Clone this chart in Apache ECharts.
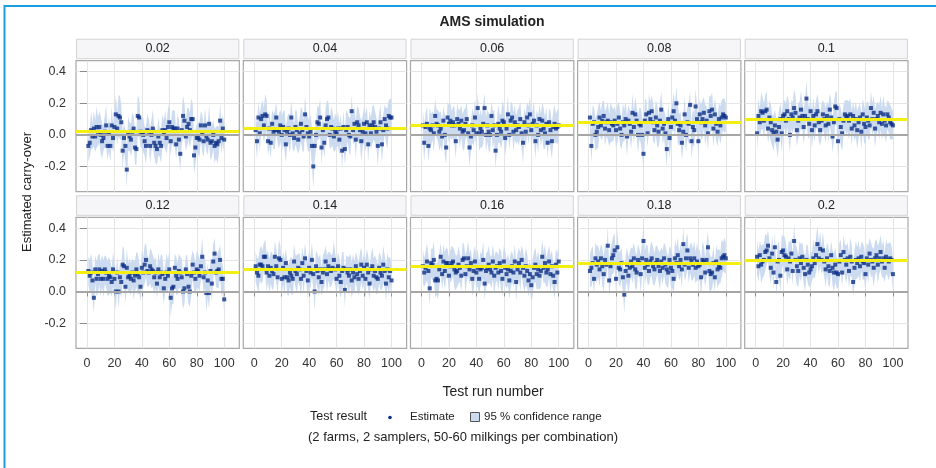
<!DOCTYPE html>
<html>
<head>
<meta charset="utf-8">
<script src="https://cdn.jsdelivr.net/npm/echarts@6/dist/echarts.min.js"></script>
<style>
  html, body { margin: 0; padding: 0; background: #fff; }
  #chart { width: 936px; height: 468px; }
</style>
</head>
<body>
<div id="chart"></div>
<script>
// panel headers = true carry-over used in the simulation
const panelLabels = ['0.02', '0.04', '0.06', '0.08', '0.1', '0.12', '0.14', '0.16', '0.18', '0.2'];
const trueCarryOver = [0.02, 0.04, 0.06, 0.08, 0.10, 0.12, 0.14, 0.16, 0.18, 0.20];
const xTickValues = [0, 20, 40, 60, 80, 100];
const yTickValues = [-0.2, 0, 0.2, 0.4];

// estimated carry-over per test run (runs 1..100)
const est002 = [
  -0.07, -0.05, 0.03, -0.01, 0.04, -0.01, 0.05, 0.02, 0.05, 0.00,
  -0.04, -0.02, 0.02, 0.06, -0.07, 0.01, -0.07, 0.06, -0.02, 0.05,
  0.13, 0.04, 0.12, 0.11, 0.08, -0.10, -0.02, -0.07, -0.22, 0.01,
  -0.01, -0.03, 0.02, 0.04, -0.08, -0.09, 0.12, 0.11, 0.02, 0.01,
  0.00, -0.04, -0.07, 0.03, 0.02, -0.07, 0.00, 0.04, -0.05, -0.07,
  -0.09, -0.01, -0.05, -0.07, 0.03, 0.01, 0.03, -0.02, 0.05, 0.08,
  -0.04, 0.05, 0.04, 0.04, -0.06, 0.04, -0.03, -0.12, 0.03, 0.12,
  0.09, -0.01, 0.05, 0.07, 0.03, 0.10, 0.10, -0.13, -0.08, -0.02,
  -0.02, -0.03, 0.06, 0.01, -0.04, 0.06, -0.01, -0.03, 0.07, -0.05,
  -0.04, 0.00, -0.07, -0.05, -0.06, -0.04, 0.09, -0.02, 0.04, -0.03
];
const est004 = [
  0.03, -0.04, 0.11, 0.01, 0.10, 0.12, 0.06, 0.13, 0.12, -0.04,
  0.04, -0.05, 0.07, 0.02, 0.03, 0.11, 0.03, 0.02, 0.06, 0.00,
  0.05, 0.03, -0.06, 0.02, 0.04, 0.00, 0.11, 0.01, -0.02, 0.05,
  0.03, -0.03, 0.01, 0.07, 0.03, -0.01, 0.13, 0.05, 0.01, -0.01,
  0.02, -0.07, -0.20, -0.07, 0.00, 0.08, 0.07, 0.11, -0.08, 0.03,
  -0.05, 0.06, 0.10, 0.11, 0.00, 0.05, 0.04, -0.01, 0.02, 0.01,
  0.04, -0.03, 0.04, -0.10, 0.05, -0.09, 0.03, 0.05, 0.00, -0.01,
  0.15, 0.03, 0.07, -0.03, 0.08, 0.06, 0.03, -0.04, 0.02, 0.07,
  0.01, 0.08, -0.06, 0.06, 0.01, 0.06, 0.08, 0.05, 0.02, -0.07,
  0.04, 0.08, -0.06, 0.03, 0.10, 0.06, 0.04, 0.12, 0.11, 0.11
];
const est006 = [
  0.06, -0.05, 0.05, 0.07, -0.07, 0.04, 0.03, 0.06, 0.01, 0.12,
  0.07, 0.06, 0.02, 0.04, -0.01, 0.09, 0.00, -0.08, 0.11, 0.07,
  0.09, 0.06, 0.08, 0.06, -0.04, 0.10, 0.07, 0.04, 0.09, 0.02,
  0.03, 0.07, 0.10, 0.01, -0.08, -0.01, 0.06, 0.03, 0.11, 0.01,
  0.17, 0.01, 0.04, 0.02, 0.07, 0.17, 0.00, 0.06, 0.02, 0.00,
  0.12, 0.03, 0.06, -0.10, 0.00, 0.07, 0.04, 0.02, 0.09, 0.08,
  -0.02, 0.04, 0.13, 0.00, 0.09, 0.11, 0.02, 0.08, 0.03, 0.06,
  0.05, 0.10, 0.01, -0.05, 0.08, 0.02, 0.11, 0.06, 0.13, 0.03,
  0.07, 0.09, -0.04, 0.06, 0.00, 0.10, 0.03, 0.09, 0.04, 0.01,
  0.07, -0.05, 0.08, 0.03, -0.04, 0.05, 0.07, 0.04, 0.05, 0.06
];
const est008 = [
  0.11, -0.07, 0.07, 0.08, 0.00, 0.02, 0.05, 0.11, 0.06, 0.09,
  0.12, 0.04, 0.08, 0.09, 0.03, 0.08, 0.07, 0.06, 0.09, 0.03,
  0.07, 0.11, 0.04, 0.00, 0.08, 0.06, 0.10, -0.01, 0.09, 0.07,
  0.02, 0.14, 0.05, 0.13, 0.09, 0.00, 0.07, 0.06, 0.00, -0.12,
  0.09, 0.13, 0.01, 0.14, 0.10, 0.15, 0.08, 0.03, 0.11, 0.06,
  0.02, 0.09, 0.16, 0.04, 0.07, 0.01, -0.09, 0.10, -0.02, 0.05,
  0.11, 0.15, 0.09, 0.20, 0.07, 0.03, 0.06, -0.05, 0.02, 0.13,
  0.00, 0.08, 0.07, 0.19, -0.04, 0.05, 0.03, 0.18, 0.10, -0.04,
  0.13, 0.08, 0.10, 0.14, 0.06, 0.09, 0.01, 0.15, 0.12, 0.16,
  0.04, 0.13, 0.07, 0.02, 0.10, 0.06, 0.11, 0.13, 0.12, 0.11
];
const est010 = [
  0.01, 0.12, 0.08, 0.15, 0.14, 0.09, 0.15, 0.16, 0.04, 0.11,
  0.08, 0.03, 0.01, 0.06, 0.02, -0.03, 0.05, 0.10, 0.01, 0.12,
  0.13, 0.09, 0.15, 0.10, 0.00, 0.13, 0.11, 0.17, 0.14, 0.03,
  0.09, 0.11, 0.16, 0.12, 0.05, 0.12, 0.23, 0.10, 0.07, 0.15,
  0.03, 0.12, 0.06, 0.13, 0.15, 0.08, 0.03, 0.09, 0.13, 0.10,
  0.06, 0.12, 0.07, 0.16, 0.11, -0.01, 0.08, 0.18, 0.17, -0.04,
  0.10, 0.05, 0.01, 0.09, 0.13, 0.11, 0.12, 0.09, 0.13, 0.04,
  0.12, 0.06, 0.10, 0.03, 0.08, 0.11, 0.02, 0.13, 0.07, 0.05,
  0.11, 0.09, 0.06, 0.17, 0.10, 0.14, 0.04, 0.10, 0.12, 0.08,
  0.14, 0.07, 0.13, 0.09, 0.06, 0.13, 0.11, 0.08, 0.07, 0.06
];
const est012 = [
  0.13, 0.10, 0.12, 0.07, -0.04, 0.14, 0.08, 0.11, 0.14, 0.08,
  0.13, 0.08, 0.14, 0.12, 0.08, 0.10, 0.09, 0.06, 0.14, 0.08,
  0.00, 0.12, 0.00, 0.09, 0.06, 0.17, 0.16, 0.03, 0.15, 0.09,
  0.10, 0.08, 0.12, 0.07, 0.10, 0.14, 0.11, 0.09, 0.03, 0.15,
  0.12, 0.17, 0.20, 0.13, 0.12, 0.16, 0.14, 0.13, 0.09, 0.12,
  0.05, 0.14, 0.09, 0.12, 0.11, 0.02, 0.08, 0.12, 0.10, 0.14,
  -0.04, 0.02, 0.03, 0.15, 0.10, 0.08, 0.13, 0.12, 0.09, 0.00,
  0.02, 0.14, 0.11, 0.03, 0.00, 0.10, 0.17, 0.12, 0.08, 0.14,
  0.13, 0.10, 0.16, 0.22, 0.09, 0.12, -0.01, 0.07, -0.01, 0.13,
  0.05, 0.19, 0.24, 0.12, 0.13, 0.14, 0.20, 0.08, 0.08, -0.05
];
const est014 = [
  0.16, 0.12, 0.10, 0.17, 0.17, 0.16, 0.22, 0.22, 0.12, 0.16,
  0.10, 0.15, 0.13, 0.11, 0.22, 0.16, 0.09, 0.21, 0.20, 0.08,
  0.15, 0.09, 0.18, 0.09, 0.07, 0.12, 0.10, 0.08, 0.19, 0.13,
  0.11, 0.15, 0.14, 0.08, 0.18, 0.10, 0.21, 0.13, 0.07, 0.15,
  0.12, 0.20, 0.11, 0.00, 0.16, 0.13, 0.09, 0.14, 0.06, 0.12,
  0.14, 0.19, 0.11, 0.16, 0.14, 0.13, 0.15, 0.20, 0.14, 0.08,
  0.16, 0.10, 0.06, 0.13, 0.15, 0.01, 0.14, 0.12, 0.10, 0.14,
  0.07, 0.12, 0.09, 0.16, 0.11, 0.08, 0.13, 0.17, 0.10, 0.15,
  0.08, 0.17, 0.12, 0.05, 0.14, 0.16, 0.10, 0.13, 0.09, 0.08,
  0.15, 0.12, 0.10, 0.17, 0.13, 0.05, 0.14, 0.09, 0.13, 0.07
];
const est016 = [
  0.16, 0.12, 0.15, 0.19, 0.13, 0.02, 0.18, 0.17, 0.20, 0.07,
  0.08, 0.07, 0.14, 0.22, 0.11, 0.19, 0.13, 0.18, 0.18, 0.10,
  0.16, 0.18, 0.19, 0.14, 0.12, 0.13, 0.17, 0.15, 0.10, 0.20,
  0.21, 0.11, 0.16, 0.21, 0.14, 0.18, 0.08, 0.13, 0.19, 0.12,
  0.15, 0.08, 0.14, 0.15, 0.20, 0.05, 0.13, 0.15, 0.17, 0.14,
  0.12, 0.19, 0.10, 0.15, 0.16, 0.12, 0.18, 0.13, 0.08, 0.19,
  0.15, 0.11, 0.14, 0.07, 0.13, 0.16, 0.12, 0.19, 0.06, 0.14,
  0.18, 0.12, 0.20, 0.15, 0.10, 0.16, 0.13, 0.07, 0.11, 0.04,
  0.09, 0.15, 0.17, 0.11, 0.14, 0.10, 0.13, 0.22, 0.15, 0.18,
  0.12, 0.14, 0.19, 0.11, 0.16, 0.10, 0.06, 0.17, 0.12, 0.19
];
const est018 = [
  0.13, 0.15, 0.18, 0.08, 0.21, 0.17, 0.19, 0.14, 0.21, 0.16,
  0.11, 0.20, 0.17, 0.29, 0.07, 0.16, 0.21, 0.23, 0.26, 0.08,
  0.28, 0.15, 0.14, 0.18, 0.09, -0.02, 0.13, 0.17, 0.10, 0.15,
  0.19, 0.16, 0.21, 0.14, 0.12, 0.20, 0.18, 0.11, 0.21, 0.32,
  0.15, 0.20, 0.17, 0.13, 0.19, 0.21, 0.16, 0.14, 0.18, 0.20,
  0.16, 0.13, 0.19, 0.15, 0.21, 0.17, 0.14, 0.12, 0.20, 0.15,
  0.13, 0.08, 0.21, 0.18, 0.23, 0.16, 0.20, 0.14, 0.30, 0.17,
  0.21, 0.26, 0.15, 0.21, 0.19, 0.17, 0.21, 0.15, 0.19, 0.16,
  0.17, 0.09, 0.20, 0.19, 0.12, 0.20, 0.28, 0.13, 0.11, 0.12,
  0.18, 0.09, 0.19, 0.14, 0.16, 0.15, 0.21, 0.22, 0.23, 0.21
];
const est020 = [
  0.22, 0.16, 0.23, 0.17, 0.19, 0.20, 0.25, 0.26, 0.29, 0.21,
  0.15, 0.24, 0.12, 0.28, 0.06, 0.19, 0.20, 0.10, 0.25, 0.26,
  0.23, 0.22, 0.14, 0.21, 0.19, 0.24, 0.13, 0.32, 0.20, 0.16,
  0.13, 0.21, 0.18, 0.22, 0.15, 0.11, 0.20, 0.17, 0.12, 0.14,
  0.16, 0.21, 0.18, 0.23, 0.30, 0.21, 0.27, 0.20, 0.26, 0.19,
  0.14, 0.21, 0.16, 0.13, 0.23, 0.15, 0.12, 0.17, 0.12, 0.11,
  0.19, 0.23, 0.12, 0.25, 0.20, 0.17, 0.21, 0.13, 0.22, 0.19,
  0.06, 0.15, 0.20, 0.18, 0.21, 0.16, 0.22, 0.19, 0.18, 0.11,
  0.21, 0.17, 0.24, 0.20, 0.19, 0.15, 0.21, 0.23, 0.17, 0.21,
  0.25, 0.19, 0.21, 0.15, 0.22, 0.20, 0.19, 0.21, 0.20, 0.11
];

// half width of the 95 % confidence range per test run
const ci002 = [
  0.10, 0.09, 0.12, 0.08, 0.11, 0.10, 0.13, 0.09, 0.10, 0.12,
  0.11, 0.08, 0.10, 0.13, 0.09, 0.11, 0.10, 0.12, 0.09, 0.11,
  0.12, 0.10, 0.13, 0.14, 0.11, 0.12, 0.09, 0.10, 0.12, 0.11,
  0.09, 0.10, 0.12, 0.08, 0.11, 0.10, 0.13, 0.12, 0.09, 0.10,
  0.11, 0.09, 0.12, 0.10, 0.08, 0.11, 0.10, 0.12, 0.09, 0.11,
  0.10, 0.12, 0.09, 0.11, 0.10, 0.08, 0.12, 0.10, 0.11, 0.13,
  0.09, 0.10, 0.12, 0.11, 0.09, 0.10, 0.12, 0.11, 0.10, 0.13,
  0.11, 0.09, 0.12, 0.10, 0.11, 0.13, 0.10, 0.12, 0.11, 0.09,
  0.10, 0.11, 0.09, 0.12, 0.10, 0.11, 0.09, 0.10, 0.12, 0.11,
  0.10, 0.09, 0.11, 0.10, 0.12, 0.09, 0.11, 0.10, 0.09, 0.10
];
const ci004 = [
  0.09, 0.11, 0.10, 0.12, 0.09, 0.10, 0.11, 0.13, 0.10, 0.09,
  0.12, 0.10, 0.09, 0.11, 0.12, 0.10, 0.08, 0.11, 0.10, 0.12,
  0.10, 0.13, 0.11, 0.09, 0.10, 0.12, 0.11, 0.10, 0.09, 0.11,
  0.12, 0.09, 0.10, 0.11, 0.13, 0.10, 0.12, 0.09, 0.11, 0.10,
  0.11, 0.12, 0.14, 0.10, 0.09, 0.11, 0.10, 0.12, 0.11, 0.09,
  0.10, 0.11, 0.12, 0.10, 0.09, 0.13, 0.11, 0.10, 0.12, 0.09,
  0.11, 0.10, 0.09, 0.12, 0.11, 0.10, 0.13, 0.09, 0.11, 0.12,
  0.10, 0.09, 0.11, 0.12, 0.10, 0.11, 0.09, 0.13, 0.10, 0.11,
  0.12, 0.10, 0.11, 0.09, 0.10, 0.12, 0.11, 0.10, 0.09, 0.13,
  0.10, 0.11, 0.12, 0.10, 0.09, 0.11, 0.13, 0.10, 0.12, 0.11
];
const ci006 = [
  0.10, 0.12, 0.09, 0.11, 0.10, 0.13, 0.10, 0.09, 0.12, 0.11,
  0.09, 0.10, 0.12, 0.11, 0.10, 0.09, 0.13, 0.11, 0.10, 0.12,
  0.11, 0.09, 0.10, 0.12, 0.11, 0.10, 0.09, 0.12, 0.10, 0.11,
  0.13, 0.10, 0.11, 0.09, 0.12, 0.10, 0.11, 0.10, 0.12, 0.09,
  0.10, 0.11, 0.12, 0.10, 0.13, 0.09, 0.11, 0.10, 0.12, 0.11,
  0.09, 0.12, 0.10, 0.11, 0.10, 0.12, 0.09, 0.11, 0.13, 0.10,
  0.11, 0.10, 0.12, 0.09, 0.11, 0.10, 0.12, 0.11, 0.09, 0.10,
  0.12, 0.11, 0.10, 0.13, 0.09, 0.11, 0.10, 0.12, 0.11, 0.10,
  0.09, 0.12, 0.11, 0.10, 0.12, 0.09, 0.10, 0.11, 0.13, 0.10,
  0.11, 0.10, 0.09, 0.12, 0.11, 0.10, 0.12, 0.09, 0.11, 0.10
];
const ci008 = [
  0.11, 0.10, 0.12, 0.09, 0.10, 0.11, 0.13, 0.10, 0.09, 0.12,
  0.10, 0.11, 0.09, 0.12, 0.10, 0.13, 0.11, 0.10, 0.09, 0.11,
  0.12, 0.10, 0.11, 0.09, 0.12, 0.10, 0.11, 0.13, 0.10, 0.09,
  0.11, 0.12, 0.10, 0.11, 0.09, 0.12, 0.10, 0.11, 0.12, 0.10,
  0.13, 0.10, 0.09, 0.12, 0.11, 0.10, 0.12, 0.09, 0.11, 0.13,
  0.10, 0.11, 0.12, 0.10, 0.09, 0.11, 0.12, 0.10, 0.13, 0.11,
  0.09, 0.12, 0.10, 0.11, 0.12, 0.10, 0.09, 0.11, 0.10, 0.12,
  0.11, 0.10, 0.13, 0.09, 0.11, 0.12, 0.10, 0.11, 0.09, 0.12,
  0.10, 0.11, 0.12, 0.10, 0.13, 0.09, 0.11, 0.10, 0.12, 0.11,
  0.12, 0.10, 0.11, 0.09, 0.10, 0.12, 0.11, 0.10, 0.11, 0.09
];
const ci010 = [
  0.10, 0.11, 0.09, 0.12, 0.10, 0.11, 0.10, 0.12, 0.09, 0.11,
  0.12, 0.10, 0.11, 0.10, 0.09, 0.12, 0.11, 0.10, 0.12, 0.10,
  0.09, 0.11, 0.10, 0.12, 0.11, 0.09, 0.10, 0.12, 0.11, 0.10,
  0.11, 0.10, 0.12, 0.09, 0.11, 0.10, 0.12, 0.11, 0.10, 0.09,
  0.12, 0.11, 0.10, 0.09, 0.11, 0.12, 0.10, 0.11, 0.09, 0.10,
  0.11, 0.09, 0.12, 0.10, 0.11, 0.10, 0.12, 0.09, 0.11, 0.10,
  0.10, 0.12, 0.11, 0.10, 0.09, 0.11, 0.10, 0.12, 0.10, 0.11,
  0.09, 0.10, 0.11, 0.12, 0.10, 0.09, 0.11, 0.10, 0.12, 0.11,
  0.10, 0.12, 0.09, 0.11, 0.10, 0.11, 0.12, 0.10, 0.09, 0.11,
  0.11, 0.10, 0.12, 0.10, 0.11, 0.09, 0.10, 0.11, 0.10, 0.09
];
const ci012 = [
  0.09, 0.10, 0.12, 0.11, 0.10, 0.09, 0.11, 0.12, 0.10, 0.11,
  0.10, 0.12, 0.09, 0.10, 0.11, 0.12, 0.10, 0.09, 0.11, 0.10,
  0.12, 0.10, 0.11, 0.09, 0.10, 0.12, 0.11, 0.10, 0.12, 0.09,
  0.11, 0.10, 0.09, 0.12, 0.10, 0.11, 0.13, 0.10, 0.09, 0.11,
  0.10, 0.12, 0.11, 0.10, 0.09, 0.11, 0.12, 0.10, 0.11, 0.10,
  0.09, 0.11, 0.10, 0.12, 0.11, 0.10, 0.09, 0.12, 0.10, 0.11,
  0.12, 0.10, 0.11, 0.09, 0.12, 0.10, 0.11, 0.10, 0.12, 0.11,
  0.10, 0.09, 0.12, 0.11, 0.10, 0.12, 0.09, 0.11, 0.10, 0.12,
  0.11, 0.10, 0.09, 0.12, 0.11, 0.10, 0.12, 0.11, 0.10, 0.09,
  0.12, 0.11, 0.10, 0.09, 0.11, 0.12, 0.10, 0.11, 0.09, 0.10
];
const ci014 = [
  0.10, 0.09, 0.11, 0.10, 0.12, 0.10, 0.09, 0.11, 0.12, 0.10,
  0.11, 0.10, 0.12, 0.09, 0.10, 0.11, 0.10, 0.12, 0.09, 0.11,
  0.10, 0.12, 0.09, 0.11, 0.10, 0.09, 0.12, 0.10, 0.11, 0.10,
  0.12, 0.09, 0.10, 0.11, 0.10, 0.12, 0.10, 0.09, 0.11, 0.12,
  0.10, 0.11, 0.09, 0.12, 0.10, 0.11, 0.12, 0.10, 0.09, 0.11,
  0.11, 0.10, 0.12, 0.09, 0.11, 0.10, 0.09, 0.12, 0.10, 0.11,
  0.09, 0.11, 0.10, 0.12, 0.10, 0.11, 0.09, 0.10, 0.12, 0.10,
  0.11, 0.12, 0.10, 0.09, 0.11, 0.10, 0.12, 0.11, 0.09, 0.10,
  0.12, 0.10, 0.11, 0.10, 0.09, 0.12, 0.11, 0.10, 0.11, 0.09,
  0.10, 0.11, 0.09, 0.12, 0.10, 0.11, 0.10, 0.12, 0.09, 0.10
];
const ci016 = [
  0.11, 0.09, 0.10, 0.12, 0.10, 0.11, 0.09, 0.10, 0.12, 0.11,
  0.10, 0.12, 0.11, 0.09, 0.10, 0.11, 0.12, 0.10, 0.09, 0.11,
  0.10, 0.11, 0.09, 0.12, 0.11, 0.10, 0.12, 0.09, 0.10, 0.11,
  0.09, 0.12, 0.10, 0.11, 0.10, 0.09, 0.11, 0.12, 0.10, 0.10,
  0.12, 0.10, 0.11, 0.09, 0.12, 0.10, 0.11, 0.10, 0.12, 0.09,
  0.10, 0.11, 0.12, 0.10, 0.09, 0.11, 0.10, 0.12, 0.11, 0.10,
  0.11, 0.09, 0.10, 0.12, 0.11, 0.10, 0.09, 0.11, 0.12, 0.10,
  0.10, 0.12, 0.09, 0.11, 0.10, 0.12, 0.11, 0.10, 0.09, 0.11,
  0.12, 0.10, 0.11, 0.10, 0.12, 0.09, 0.10, 0.11, 0.10, 0.12,
  0.09, 0.11, 0.10, 0.12, 0.10, 0.09, 0.11, 0.10, 0.12, 0.10
];
const ci018 = [
  0.10, 0.12, 0.11, 0.09, 0.10, 0.12, 0.10, 0.11, 0.09, 0.12,
  0.11, 0.10, 0.09, 0.12, 0.10, 0.11, 0.10, 0.12, 0.11, 0.09,
  0.12, 0.10, 0.11, 0.10, 0.09, 0.12, 0.10, 0.11, 0.12, 0.10,
  0.09, 0.11, 0.10, 0.12, 0.11, 0.10, 0.09, 0.12, 0.10, 0.11,
  0.11, 0.10, 0.12, 0.09, 0.10, 0.11, 0.12, 0.10, 0.11, 0.09,
  0.10, 0.12, 0.09, 0.11, 0.10, 0.12, 0.11, 0.10, 0.09, 0.12,
  0.11, 0.10, 0.12, 0.10, 0.11, 0.09, 0.10, 0.12, 0.11, 0.10,
  0.12, 0.11, 0.10, 0.09, 0.12, 0.10, 0.11, 0.10, 0.12, 0.09,
  0.10, 0.11, 0.12, 0.10, 0.09, 0.11, 0.10, 0.12, 0.11, 0.10,
  0.11, 0.09, 0.10, 0.12, 0.11, 0.10, 0.12, 0.09, 0.11, 0.10
];
const ci020 = [
  0.11, 0.10, 0.09, 0.12, 0.11, 0.10, 0.12, 0.09, 0.10, 0.11,
  0.10, 0.12, 0.11, 0.10, 0.09, 0.11, 0.12, 0.10, 0.11, 0.09,
  0.12, 0.09, 0.10, 0.11, 0.12, 0.10, 0.09, 0.11, 0.10, 0.12,
  0.10, 0.11, 0.12, 0.09, 0.10, 0.11, 0.10, 0.12, 0.09, 0.11,
  0.09, 0.12, 0.10, 0.11, 0.12, 0.10, 0.11, 0.09, 0.12, 0.10,
  0.11, 0.10, 0.12, 0.10, 0.09, 0.11, 0.12, 0.11, 0.10, 0.09,
  0.12, 0.10, 0.09, 0.11, 0.10, 0.12, 0.10, 0.11, 0.12, 0.10,
  0.09, 0.11, 0.12, 0.10, 0.11, 0.10, 0.09, 0.12, 0.10, 0.11,
  0.10, 0.12, 0.10, 0.11, 0.09, 0.12, 0.11, 0.10, 0.12, 0.10,
  0.11, 0.10, 0.12, 0.09, 0.11, 0.10, 0.12, 0.10, 0.09, 0.11
];

const estimates = [est002, est004, est006, est008, est010, est012, est014, est016, est018, est020];
const ciHalfWidths = [ci002, ci004, ci006, ci008, ci010, ci012, ci014, ci016, ci018, ci020];
const runNumbers = est002.map((_, i) => i + 1);

// panel layout (pixels)
const colLeft = [76, 243.3, 410.5, 577.6, 744.7];
const rowTop = [60.7, 217.3];
const plotW = 163.3;
const plotH = 131;
const headerH = 19.5;

const FONT = 'Liberation Sans, Arial, sans-serif';
const navy = '#0c2f86';
const bandColor = '#ccdbf0';
const gridColor = '#e5e5e5';

const chart = echarts.init(document.getElementById('chart'), null, { renderer: 'canvas' });

const grids = [], xAxes = [], yAxes = [], series = [];
const graphics = [];

// outer blue frame
graphics.push({
  type: 'rect', shape: { x: 4.5, y: 6, width: 1200, height: 1000 },
  style: { fill: null, stroke: '#1b9de2', lineWidth: 2 }, silent: true
});

// band polygon: upper limits left to right, then lower limits back
function bandRenderer(rows) {
  return function (params, api) {
    if (params.dataIndex !== 0) return null;
    const upper = rows.map(d => api.coord([d[0], d[2]]));
    const lower = rows.map(d => api.coord([d[0], d[1]])).reverse();
    return {
      type: 'polygon',
      shape: { points: upper.concat(lower) },
      style: { fill: bandColor, stroke: null }
    };
  };
}

panelLabels.forEach((label, i) => {
  const row = Math.floor(i / 5), col = i % 5;
  const left = colLeft[col], top = rowTop[row];
  const est = estimates[i], hw = ciHalfWidths[i];

  grids.push({
    left: left, top: top, width: plotW, height: plotH,
    show: true, borderColor: '#a8a8a8', borderWidth: 1.2, backgroundColor: '#fff'
  });

  xAxes.push({
    gridIndex: i, type: 'value', min: -8, max: 111, splitNumber: 5,
    axisLine: { show: false },
    axisTick: {
      show: row === 1, length: 5, customValues: xTickValues,
      lineStyle: { color: '#8c8c8c' }
    },
    axisLabel: {
      show: row === 1, customValues: xTickValues, margin: 9,
      color: '#333', fontSize: 12.5, fontFamily: FONT,
      formatter: v => (xTickValues.indexOf(v) >= 0 ? String(v) : '')
    },
    splitLine: { show: true, lineStyle: { color: gridColor, width: 1 } }
  });

  yAxes.push({
    gridIndex: i, type: 'value', min: -0.36, max: 0.47, splitNumber: 4,
    axisLine: { show: false },
    axisTick: {
      show: col === 0, length: 7, customValues: yTickValues,
      lineStyle: { color: '#8c8c8c' }
    },
    axisLabel: {
      show: col === 0, customValues: yTickValues, margin: 10,
      color: '#333', fontSize: 12.5, fontFamily: FONT,
      formatter: v => (yTickValues.some(t => Math.abs(t - v) < 1e-9) ? v.toFixed(1) : '')
    },
    splitLine: { show: true, lineStyle: { color: gridColor, width: 1 } }
  });

  // 95 % confidence band
  const bandRows = runNumbers.map((r, k) => [r, est[k] - hw[k], est[k] + hw[k]]);
  series.push({
    type: 'custom', name: '95 % confidence range', xAxisIndex: i, yAxisIndex: i,
    data: bandRows, renderItem: bandRenderer(bandRows),
    encode: { x: 0, y: [1, 2] }, clip: true, silent: true, z: 1
  });

  // reference lines: zero and true carry-over
  series.push({
    type: 'scatter', name: 'ref' + i, xAxisIndex: i, yAxisIndex: i, data: [],
    z: 2,
    markLine: {
      silent: true, symbol: ['none', 'none'], label: { show: false }, animation: false,
      data: [
        { yAxis: 0, lineStyle: { color: '#a6a6a6', width: 2, type: 'solid' } },
        { yAxis: trueCarryOver[i], lineStyle: { color: '#f3ef12', width: 3, type: 'solid' } }
      ]
    }
  });

  series.push({
    type: 'scatter', name: 'Estimate', xAxisIndex: i, yAxisIndex: i,
    data: runNumbers.map((r, k) => [r, est[k]]),
    symbol: 'rect', symbolSize: 4, itemStyle: { color: navy }, z: 3
  });

  // header strip
  graphics.push({
    type: 'rect', silent: true,
    shape: { x: left + 0.5, y: top - headerH - 2, width: plotW - 1, height: headerH },
    style: { fill: '#f6f6f8', stroke: '#d3d3d3', lineWidth: 1 }
  });
  graphics.push({
    type: 'text', silent: true,
    x: left + plotW / 2, y: top - headerH / 2 - 2,
    style: {
      text: label, fill: '#222', font: '12.5px ' + FONT,
      align: 'center', verticalAlign: 'middle', textAlign: 'center', textVerticalAlign: 'middle'
    }
  });
});

// titles and legend
function addText(text, x, y, font, align, rotation) {
  graphics.push({
    type: 'text', silent: true, x: x, y: y, rotation: rotation || 0,
    style: {
      text: text, fill: '#222', font: font,
      align: align, verticalAlign: 'middle', textAlign: align, textVerticalAlign: 'middle'
    }
  });
}
addText('AMS simulation', 492, 22, 'bold 14px ' + FONT, 'center');
addText('Estimated carry-over', 27, 192, '13px ' + FONT, 'center', Math.PI / 2);
addText('Test run number', 493, 392, '14px ' + FONT, 'center');
addText('Test result', 310, 417, '12.5px ' + FONT, 'left');
graphics.push({
  type: 'circle', silent: true, shape: { cx: 390, cy: 417.5, r: 1.8 },
  style: { fill: navy }
});
addText('Estimate', 410, 417, '11.5px ' + FONT, 'left');
graphics.push({
  type: 'rect', silent: true, shape: { x: 470.5, y: 412.5, width: 9, height: 9 },
  style: { fill: bandColor, stroke: '#555', lineWidth: 1 }
});
addText('95 % confidence range', 484, 417, '11.5px ' + FONT, 'left');
addText('(2 farms, 2 samplers, 50-60 milkings per combination)', 463, 437, '13px ' + FONT, 'center');

chart.setOption({
  animation: false,
  backgroundColor: '#fff',
  grid: grids,
  xAxis: xAxes,
  yAxis: yAxes,
  series: series,
  graphic: { elements: graphics }
});
</script>
</body>
</html>
